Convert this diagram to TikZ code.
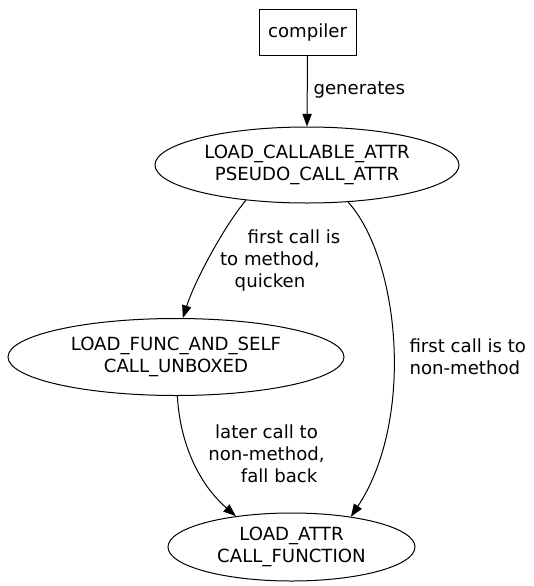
\documentclass[tikz,border=0pt]{standalone}
\usepackage{fontspec}
\setmainfont{DejaVu Sans}
\usetikzlibrary{shapes.geometric,arrows.meta}

\tikzset{every picture/.style={line width=0.75pt}}
\tikzset{
  state/.style={draw, ellipse, inner sep=0pt, align=center},
  srcbox/.style={draw, rectangle, inner sep=0pt, minimum width=72.75pt, minimum height=34.5pt},
  lbl/.style={inner sep=0pt, align=center},
  flow/.style={-{Triangle[length=9.5pt,width=7pt]}}
}

\begin{document}
\begin{tikzpicture}[x=0.75pt,y=0.75pt,yscale=-1,xscale=1,font=\fontsize{13.6}{16.5}\selectfont]
\useasboundingbox (0,0) rectangle (534,586); %diagram is 534 x 586

%Rectangle
\node [srcbox] (compiler) at (307.5,32) {compiler};
%Ellipse
\node [state, minimum width=228pt, minimum height=57pt] (callable) at (307,165) {LOAD\_CALLABLE\_ATTR\\PSEUDO\_CALL\_ATTR};
%Ellipse
\node [state, minimum width=252pt, minimum height=57.75pt] (funcself) at (176,357) {LOAD\_FUNC\_AND\_SELF\\CALL\_UNBOXED};
%Ellipse
\node [state, minimum width=185.25pt, minimum height=51pt] (loadattr) at (291.5,547) {LOAD\_ATTR\\CALL\_FUNCTION};

%Straight Lines
\draw [flow] (compiler.south) -- (callable.north);
%Curve Lines
\draw [flow] (callable.210) .. controls (225,225) and (195,280) .. (funcself.80);
%Curve Lines
\draw [flow] (callable.318) .. controls (400,260) and (415,420) .. (loadattr.27);
%Curve Lines
\draw [flow] (funcself.272) .. controls (180,445) and (200,485) .. (loadattr.151);

% Text Node
\node [lbl, anchor=west] (genlbl) at (313,90) {generates};
% Text Node
\node [lbl] (quickenlbl) at (270,260) {\hspace*{36pt}first call is\\to method,\\quicken};
% Text Node
\node [lbl, anchor=west, align=left] (nonmethlbl) at (409,357) {first call is to\\non-method};
% Text Node
\node [lbl] (fallbacklbl) at (266.5,454) {later call to\\non-method,\\\hspace*{19pt}fall back};

\end{tikzpicture}
\end{document}
